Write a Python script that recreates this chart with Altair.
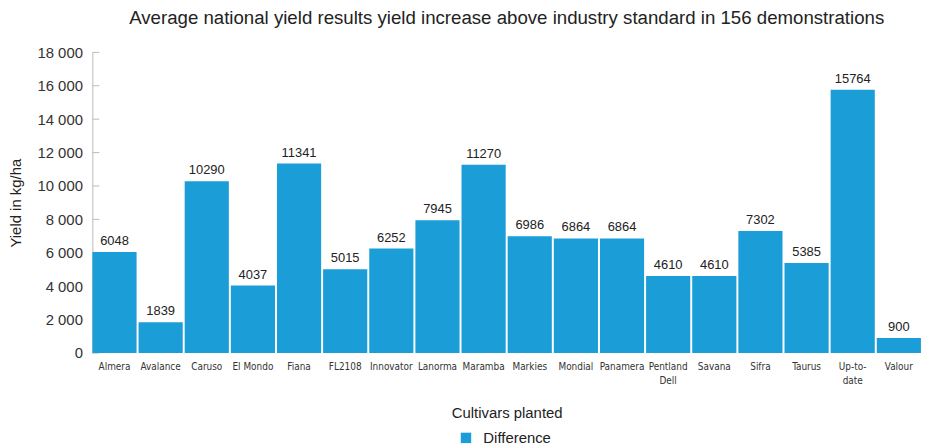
import altair as alt
import pandas as pd

cultivars = ["Almera", "Avalance", "Caruso", "El Mondo", "Fiana", "FL2108", "Innovator",
             "Lanorma", "Maramba", "Markies", "Mondial", "Panamera", "Pentland Dell",
             "Savana", "Sifra", "Taurus", "Up-to-date", "Valour"]
difference = [6048, 1839, 10290, 4037, 11341, 5015, 6252, 7945, 11270, 6986, 6864,
              6864, 4610, 4610, 7302, 5385, 15764, 900]
y_ticks = [0, 2000, 4000, 6000, 8000, 10000, 12000, 14000, 16000, 18000]

df = pd.DataFrame({"Cultivar": cultivars, "Yield": difference, "Series": "Difference"})
ticks_df = pd.DataFrame({"v": y_ticks})

FONT = "Liberation Sans"
NARROW = "DejaVu Sans Condensed, Liberation Sans"
BLUE = "#1b9dd8"

y_scale = alt.Scale(domain=[0, 18000], nice=False)

label_expr = ("datum.value == 'Pentland Dell' ? ['Pentland', 'Dell'] : "
              "datum.value == 'Up-to-date' ? ['Up-to-', 'date'] : datum.label")

y_axis = alt.Axis(title="Yield in kg/ha", values=y_ticks, grid=False, ticks=False,
                  domainColor="#bbbbbb", labelFont=FONT, labelFontSize=15,
                  labelColor="#333333", labelPadding=10, labelOverlap=False,
                  labelExpr="replace(format(datum.value, ','), ',', ' ')",
                  titleFont=FONT, titleFontSize=15, titleFontWeight="normal",
                  titleColor="#222222", titlePadding=14)

x_axis = alt.Axis(title="Cultivars planted", labelAngle=0, labelFont=NARROW,
                  labelFontSize=10, labelColor="#333333", labelPadding=9,
                  labelExpr=label_expr, ticks=False, domain=False,
                  titleFont=FONT, titleFontSize=15, titleFontWeight="normal",
                  titleColor="#222222", titlePadding=20, labelLineHeight=14)

tick_layer = alt.Chart(ticks_df).mark_rule(color="#bbbbbb", strokeWidth=1).encode(
    y=alt.Y("v:Q", scale=y_scale, axis=y_axis),
    x=alt.value(0),
    x2=alt.value(7),
)

bars = alt.Chart(df).mark_bar(size=44.5).encode(
    x=alt.X("Cultivar:N", sort=cultivars,
            scale=alt.Scale(paddingInner=0.04, paddingOuter=0.0), axis=x_axis),
    y=alt.Y("Yield:Q", scale=y_scale, axis=y_axis),
    color=alt.Color("Series:N", scale=alt.Scale(range=[BLUE]),
                    legend=alt.Legend(title=None, orient="none", legendX=369, legendY=381,
                                      symbolType="square", symbolSize=110,
                                      symbolStrokeWidth=0, labelFont=FONT,
                                      labelFontSize=15, labelColor="#222222",
                                      labelOffset=10)),
)

texts = alt.Chart(df).mark_text(baseline="bottom", dy=-4, font=FONT, fontSize=13,
                                color="#222222").encode(
    x=alt.X("Cultivar:N", sort=cultivars, axis=x_axis),
    y=alt.Y("Yield:Q", scale=y_scale, axis=y_axis),
    text=alt.Text("Yield:Q", format="d"),
)

chart = alt.layer(tick_layer, bars, texts).properties(
    width=835, height=303,
    title=alt.TitleParams("Average national yield results yield increase above industry standard in 156 demonstrations",
                          font=FONT, fontSize=18.8, fontWeight="normal", color="#222222",
                          anchor="middle", offset=18),
    autosize=alt.AutoSizeParams(type="none"),
    padding={"left": 85, "top": 43, "right": 0, "bottom": 94},
).configure_view(stroke=None).configure_axisY(labelOverlap=False)

chart.save("out.html", embed_options={"renderer": "svg", "actions": False})
